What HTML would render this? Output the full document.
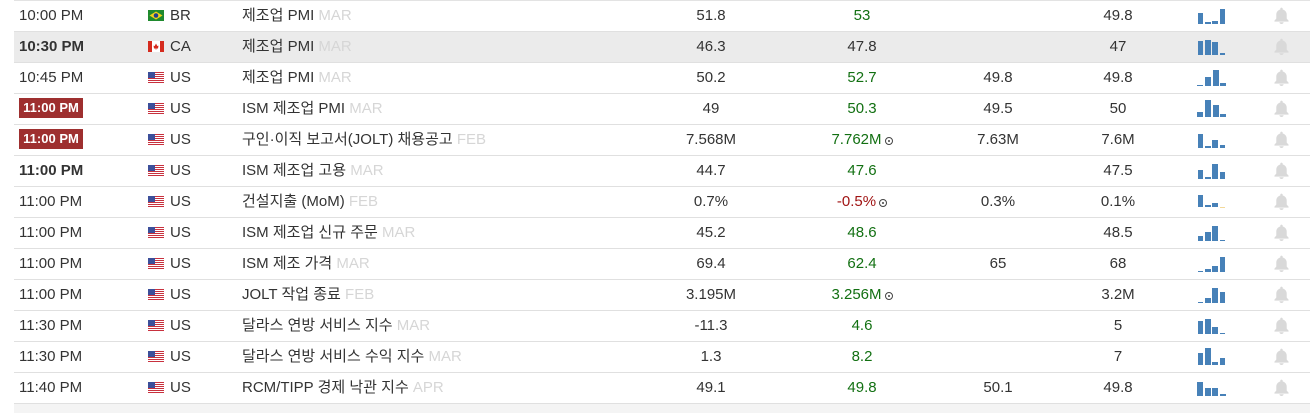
<!DOCTYPE html>
<html>
<head>
<meta charset="utf-8">
<style>
  html,body{margin:0;padding:0;background:#fff;}
  body{width:1310px;height:413px;position:relative;overflow:hidden;
       font-family:"Liberation Sans","Noto Sans CJK KR",Arial,sans-serif;font-size:15px;color:#333;}
  .top{position:absolute;left:14px;top:0;width:1296px;height:1px;background:#e3e3e3;}
  .r{position:absolute;left:14px;width:1296px;height:30px;border-bottom:1px solid #e0e0e0;}
  .r.g{background:#ebebeb;}
  .c{position:absolute;top:0;line-height:30px;white-space:nowrap;}
  .time{left:5px;}
  .b{font-weight:bold;}
  .badge{position:absolute;left:5px;top:4px;width:64px;height:20px;line-height:20px;background:#9e2f2f;color:#fff;font-weight:bold;font-size:13px;text-align:center;white-space:nowrap;}
  .flag{position:absolute;left:134px;top:9px;width:16px;height:11px;}
  .cty{left:156px;}
  .ev{left:228px;}
  .k{letter-spacing:0;}
  .ev .m{color:#d6d6d6;}
  .a{left:637px;width:120px;text-align:center;}
  .f{left:788px;width:120px;text-align:center;}
  .p{left:924px;width:120px;text-align:center;}
  .d{left:1044px;width:120px;text-align:center;}
  .gr{color:#127012;}
  .rd{color:#a01414;}
  .ic{display:inline-block;width:6px;height:6px;border:1px solid #444;border-radius:50%;position:relative;vertical-align:-1px;margin-left:3px;}
  .ic:after{content:"";position:absolute;left:2px;top:2px;width:2px;height:2px;background:#444;border-radius:50%;}
  .bar{position:absolute;background:#4781b8;}
  .bar.y{background:#f3d99a;}
  .bell{position:absolute;left:1259px;top:6px;}
  .foot{position:absolute;left:14px;top:404px;width:1296px;height:9px;background:#f4f4f4;}
</style>
</head>
<body>
<div class="top"></div>

<!-- Row 1 -->
<div class="r" style="top:1px;">
  <span class="c time">10:00 PM</span>
  <svg class="flag" viewBox="0 0 16 11"><rect width="16" height="11" fill="#1f8a2e"/><polygon points="8,1.5 14.5,5.5 8,9.5 1.5,5.5" fill="#f2d21b"/><circle cx="8" cy="5.5" r="2.3" fill="#1f3f8f"/></svg>
  <span class="c cty">BR</span>
  <span class="c ev"><span class="k">제조업</span> PMI <span class="m">MAR</span></span>
  <span class="c a">51.8</span>
  <span class="c f gr">53</span>
  <span class="c d">49.8</span>
  <div class="bar" style="left:1184px;top:12px;width:5px;height:11px;"></div>
  <div class="bar" style="left:1191px;top:21px;width:6px;height:2px;"></div>
  <div class="bar" style="left:1198px;top:20px;width:6px;height:3px;"></div>
  <div class="bar" style="left:1206px;top:8px;width:5px;height:15px;"></div>
  <svg class="bell" width="17" height="17" viewBox="0 0 14 14"><path d="M7 0.5c.6 0 1 .4 1 1v.6c2 .5 3.3 2.2 3.3 4.3v3.2l1.5 1.6v.8H1.2v-.8l1.5-1.6V6.4c0-2.1 1.3-3.8 3.3-4.3V1.5c0-.6.4-1 1-1z M5.3 12.6h3.4c0 .9-.8 1.4-1.7 1.4s-1.7-.5-1.7-1.4z" fill="#d9d9d9"/></svg>
</div>

<!-- Row 2 -->
<div class="r g" style="top:32px;">
  <span class="c time b">10:30 PM</span>
  <svg class="flag" viewBox="0 0 16 11"><rect width="16" height="11" fill="#fff"/><rect width="4" height="11" fill="#d52b1e"/><rect x="12" width="4" height="11" fill="#d52b1e"/><polygon points="8,2.5 9.3,5 10.5,4.6 10,7.5 8.3,7.5 8.3,8.8 7.7,8.8 7.7,7.5 6,7.5 5.5,4.6 6.7,5" fill="#d52b1e"/></svg>
  <span class="c cty">CA</span>
  <span class="c ev"><span class="k">제조업</span> PMI <span class="m">MAR</span></span>
  <span class="c a">46.3</span>
  <span class="c f">47.8</span>
  <span class="c d">47</span>
  <div class="bar" style="left:1184px;top:9px;width:5px;height:14px;"></div>
  <div class="bar" style="left:1191px;top:8px;width:6px;height:15px;"></div>
  <div class="bar" style="left:1198px;top:10px;width:6px;height:13px;"></div>
  <div class="bar" style="left:1206px;top:21px;width:5px;height:2px;"></div>
  <svg class="bell" width="17" height="17" viewBox="0 0 14 14"><path d="M7 0.5c.6 0 1 .4 1 1v.6c2 .5 3.3 2.2 3.3 4.3v3.2l1.5 1.6v.8H1.2v-.8l1.5-1.6V6.4c0-2.1 1.3-3.8 3.3-4.3V1.5c0-.6.4-1 1-1z M5.3 12.6h3.4c0 .9-.8 1.4-1.7 1.4s-1.7-.5-1.7-1.4z" fill="#d9d9d9"/></svg>
</div>

<!-- Row 3 -->
<div class="r" style="top:63px;">
  <span class="c time">10:45 PM</span>
  <svg class="flag" viewBox="0 0 16 11"><rect width="16" height="11" fill="#fff"/><rect y="0" width="16" height="1" fill="#c8313e"/><rect y="2" width="16" height="1" fill="#c8313e"/><rect y="4" width="16" height="1" fill="#c8313e"/><rect y="6" width="16" height="1" fill="#c8313e"/><rect y="8" width="16" height="1" fill="#c8313e"/><rect y="10" width="16" height="1" fill="#c8313e"/><rect width="7" height="6" fill="#3c4f9a"/></svg>
  <span class="c cty">US</span>
  <span class="c ev"><span class="k">제조업</span> PMI <span class="m">MAR</span></span>
  <span class="c a">50.2</span>
  <span class="c f gr">52.7</span>
  <span class="c p">49.8</span>
  <span class="c d">49.8</span>
  <div class="bar" style="left:1183px;top:22px;width:6px;height:1px;"></div>
  <div class="bar" style="left:1191px;top:14px;width:6px;height:9px;"></div>
  <div class="bar" style="left:1199px;top:7px;width:6px;height:16px;"></div>
  <div class="bar" style="left:1206px;top:20px;width:6px;height:3px;"></div>
  <svg class="bell" width="17" height="17" viewBox="0 0 14 14"><path d="M7 0.5c.6 0 1 .4 1 1v.6c2 .5 3.3 2.2 3.3 4.3v3.2l1.5 1.6v.8H1.2v-.8l1.5-1.6V6.4c0-2.1 1.3-3.8 3.3-4.3V1.5c0-.6.4-1 1-1z M5.3 12.6h3.4c0 .9-.8 1.4-1.7 1.4s-1.7-.5-1.7-1.4z" fill="#d9d9d9"/></svg>
</div>

<!-- Row 4 -->
<div class="r" style="top:94px;">
  <span class="badge">11:00 PM</span>
  <svg class="flag" viewBox="0 0 16 11"><rect width="16" height="11" fill="#fff"/><rect y="0" width="16" height="1" fill="#c8313e"/><rect y="2" width="16" height="1" fill="#c8313e"/><rect y="4" width="16" height="1" fill="#c8313e"/><rect y="6" width="16" height="1" fill="#c8313e"/><rect y="8" width="16" height="1" fill="#c8313e"/><rect y="10" width="16" height="1" fill="#c8313e"/><rect width="7" height="6" fill="#3c4f9a"/></svg>
  <span class="c cty">US</span>
  <span class="c ev">ISM <span class="k">제조업</span> PMI <span class="m">MAR</span></span>
  <span class="c a">49</span>
  <span class="c f gr">50.3</span>
  <span class="c p">49.5</span>
  <span class="c d">50</span>
  <div class="bar" style="left:1183px;top:18px;width:6px;height:5px;"></div>
  <div class="bar" style="left:1191px;top:6px;width:6px;height:17px;"></div>
  <div class="bar" style="left:1199px;top:11px;width:6px;height:12px;"></div>
  <div class="bar" style="left:1206px;top:20px;width:6px;height:3px;"></div>
  <svg class="bell" width="17" height="17" viewBox="0 0 14 14"><path d="M7 0.5c.6 0 1 .4 1 1v.6c2 .5 3.3 2.2 3.3 4.3v3.2l1.5 1.6v.8H1.2v-.8l1.5-1.6V6.4c0-2.1 1.3-3.8 3.3-4.3V1.5c0-.6.4-1 1-1z M5.3 12.6h3.4c0 .9-.8 1.4-1.7 1.4s-1.7-.5-1.7-1.4z" fill="#d9d9d9"/></svg>
</div>

<!-- Row 5 -->
<div class="r" style="top:125px;">
  <span class="badge">11:00 PM</span>
  <svg class="flag" viewBox="0 0 16 11"><rect width="16" height="11" fill="#fff"/><rect y="0" width="16" height="1" fill="#c8313e"/><rect y="2" width="16" height="1" fill="#c8313e"/><rect y="4" width="16" height="1" fill="#c8313e"/><rect y="6" width="16" height="1" fill="#c8313e"/><rect y="8" width="16" height="1" fill="#c8313e"/><rect y="10" width="16" height="1" fill="#c8313e"/><rect width="7" height="6" fill="#3c4f9a"/></svg>
  <span class="c cty">US</span>
  <span class="c ev"><span class="k">구인·이직</span> <span class="k">보고서</span>(JOLT) <span class="k">채용공고</span> <span class="m">FEB</span></span>
  <span class="c a">7.568M</span>
  <span class="c f gr">7.762M<span class="ic"></span></span>
  <span class="c p">7.63M</span>
  <span class="c d">7.6M</span>
  <div class="bar" style="left:1184px;top:9px;width:5px;height:14px;"></div>
  <div class="bar" style="left:1191px;top:21px;width:6px;height:2px;"></div>
  <div class="bar" style="left:1198px;top:15px;width:6px;height:8px;"></div>
  <div class="bar" style="left:1206px;top:20px;width:5px;height:3px;"></div>
  <svg class="bell" width="17" height="17" viewBox="0 0 14 14"><path d="M7 0.5c.6 0 1 .4 1 1v.6c2 .5 3.3 2.2 3.3 4.3v3.2l1.5 1.6v.8H1.2v-.8l1.5-1.6V6.4c0-2.1 1.3-3.8 3.3-4.3V1.5c0-.6.4-1 1-1z M5.3 12.6h3.4c0 .9-.8 1.4-1.7 1.4s-1.7-.5-1.7-1.4z" fill="#d9d9d9"/></svg>
</div>

<!-- Row 6 -->
<div class="r" style="top:156px;">
  <span class="c time b">11:00 PM</span>
  <svg class="flag" viewBox="0 0 16 11"><rect width="16" height="11" fill="#fff"/><rect y="0" width="16" height="1" fill="#c8313e"/><rect y="2" width="16" height="1" fill="#c8313e"/><rect y="4" width="16" height="1" fill="#c8313e"/><rect y="6" width="16" height="1" fill="#c8313e"/><rect y="8" width="16" height="1" fill="#c8313e"/><rect y="10" width="16" height="1" fill="#c8313e"/><rect width="7" height="6" fill="#3c4f9a"/></svg>
  <span class="c cty">US</span>
  <span class="c ev">ISM <span class="k">제조업</span> <span class="k">고용</span> <span class="m">MAR</span></span>
  <span class="c a">44.7</span>
  <span class="c f gr">47.6</span>
  <span class="c d">47.5</span>
  <div class="bar" style="left:1184px;top:14px;width:5px;height:9px;"></div>
  <div class="bar" style="left:1191px;top:21px;width:6px;height:2px;"></div>
  <div class="bar" style="left:1198px;top:8px;width:6px;height:15px;"></div>
  <div class="bar" style="left:1206px;top:16px;width:5px;height:7px;"></div>
  <svg class="bell" width="17" height="17" viewBox="0 0 14 14"><path d="M7 0.5c.6 0 1 .4 1 1v.6c2 .5 3.3 2.2 3.3 4.3v3.2l1.5 1.6v.8H1.2v-.8l1.5-1.6V6.4c0-2.1 1.3-3.8 3.3-4.3V1.5c0-.6.4-1 1-1z M5.3 12.6h3.4c0 .9-.8 1.4-1.7 1.4s-1.7-.5-1.7-1.4z" fill="#d9d9d9"/></svg>
</div>

<!-- Row 7 -->
<div class="r" style="top:187px;">
  <span class="c time">11:00 PM</span>
  <svg class="flag" viewBox="0 0 16 11"><rect width="16" height="11" fill="#fff"/><rect y="0" width="16" height="1" fill="#c8313e"/><rect y="2" width="16" height="1" fill="#c8313e"/><rect y="4" width="16" height="1" fill="#c8313e"/><rect y="6" width="16" height="1" fill="#c8313e"/><rect y="8" width="16" height="1" fill="#c8313e"/><rect y="10" width="16" height="1" fill="#c8313e"/><rect width="7" height="6" fill="#3c4f9a"/></svg>
  <span class="c cty">US</span>
  <span class="c ev"><span class="k">건설지출</span> (MoM) <span class="m">FEB</span></span>
  <span class="c a">0.7%</span>
  <span class="c f rd">-0.5%<span class="ic"></span></span>
  <span class="c p">0.3%</span>
  <span class="c d">0.1%</span>
  <div class="bar" style="left:1184px;top:8px;width:5px;height:12px;"></div>
  <div class="bar" style="left:1191px;top:18px;width:6px;height:2px;"></div>
  <div class="bar" style="left:1198px;top:16px;width:6px;height:4px;"></div>
  <div class="bar y" style="left:1206px;top:20px;width:5px;height:1px;"></div>
  <svg class="bell" width="17" height="17" viewBox="0 0 14 14"><path d="M7 0.5c.6 0 1 .4 1 1v.6c2 .5 3.3 2.2 3.3 4.3v3.2l1.5 1.6v.8H1.2v-.8l1.5-1.6V6.4c0-2.1 1.3-3.8 3.3-4.3V1.5c0-.6.4-1 1-1z M5.3 12.6h3.4c0 .9-.8 1.4-1.7 1.4s-1.7-.5-1.7-1.4z" fill="#d9d9d9"/></svg>
</div>

<!-- Row 8 -->
<div class="r" style="top:218px;">
  <span class="c time">11:00 PM</span>
  <svg class="flag" viewBox="0 0 16 11"><rect width="16" height="11" fill="#fff"/><rect y="0" width="16" height="1" fill="#c8313e"/><rect y="2" width="16" height="1" fill="#c8313e"/><rect y="4" width="16" height="1" fill="#c8313e"/><rect y="6" width="16" height="1" fill="#c8313e"/><rect y="8" width="16" height="1" fill="#c8313e"/><rect y="10" width="16" height="1" fill="#c8313e"/><rect width="7" height="6" fill="#3c4f9a"/></svg>
  <span class="c cty">US</span>
  <span class="c ev">ISM <span class="k">제조업</span> <span class="k">신규</span> <span class="k">주문</span> <span class="m">MAR</span></span>
  <span class="c a">45.2</span>
  <span class="c f gr">48.6</span>
  <span class="c d">48.5</span>
  <div class="bar" style="left:1184px;top:18px;width:5px;height:5px;"></div>
  <div class="bar" style="left:1191px;top:14px;width:6px;height:9px;"></div>
  <div class="bar" style="left:1198px;top:8px;width:6px;height:15px;"></div>
  <div class="bar" style="left:1206px;top:22px;width:5px;height:1px;"></div>
  <svg class="bell" width="17" height="17" viewBox="0 0 14 14"><path d="M7 0.5c.6 0 1 .4 1 1v.6c2 .5 3.3 2.2 3.3 4.3v3.2l1.5 1.6v.8H1.2v-.8l1.5-1.6V6.4c0-2.1 1.3-3.8 3.3-4.3V1.5c0-.6.4-1 1-1z M5.3 12.6h3.4c0 .9-.8 1.4-1.7 1.4s-1.7-.5-1.7-1.4z" fill="#d9d9d9"/></svg>
</div>

<!-- Row 9 -->
<div class="r" style="top:249px;">
  <span class="c time">11:00 PM</span>
  <svg class="flag" viewBox="0 0 16 11"><rect width="16" height="11" fill="#fff"/><rect y="0" width="16" height="1" fill="#c8313e"/><rect y="2" width="16" height="1" fill="#c8313e"/><rect y="4" width="16" height="1" fill="#c8313e"/><rect y="6" width="16" height="1" fill="#c8313e"/><rect y="8" width="16" height="1" fill="#c8313e"/><rect y="10" width="16" height="1" fill="#c8313e"/><rect width="7" height="6" fill="#3c4f9a"/></svg>
  <span class="c cty">US</span>
  <span class="c ev">ISM <span class="k">제조</span> <span class="k">가격</span> <span class="m">MAR</span></span>
  <span class="c a">69.4</span>
  <span class="c f gr">62.4</span>
  <span class="c p">65</span>
  <span class="c d">68</span>
  <div class="bar" style="left:1184px;top:22px;width:5px;height:1px;"></div>
  <div class="bar" style="left:1191px;top:20px;width:6px;height:3px;"></div>
  <div class="bar" style="left:1198px;top:17px;width:6px;height:6px;"></div>
  <div class="bar" style="left:1206px;top:8px;width:5px;height:15px;"></div>
  <svg class="bell" width="17" height="17" viewBox="0 0 14 14"><path d="M7 0.5c.6 0 1 .4 1 1v.6c2 .5 3.3 2.2 3.3 4.3v3.2l1.5 1.6v.8H1.2v-.8l1.5-1.6V6.4c0-2.1 1.3-3.8 3.3-4.3V1.5c0-.6.4-1 1-1z M5.3 12.6h3.4c0 .9-.8 1.4-1.7 1.4s-1.7-.5-1.7-1.4z" fill="#d9d9d9"/></svg>
</div>

<!-- Row 10 -->
<div class="r" style="top:280px;">
  <span class="c time">11:00 PM</span>
  <svg class="flag" viewBox="0 0 16 11"><rect width="16" height="11" fill="#fff"/><rect y="0" width="16" height="1" fill="#c8313e"/><rect y="2" width="16" height="1" fill="#c8313e"/><rect y="4" width="16" height="1" fill="#c8313e"/><rect y="6" width="16" height="1" fill="#c8313e"/><rect y="8" width="16" height="1" fill="#c8313e"/><rect y="10" width="16" height="1" fill="#c8313e"/><rect width="7" height="6" fill="#3c4f9a"/></svg>
  <span class="c cty">US</span>
  <span class="c ev">JOLT <span class="k">작업</span> <span class="k">종료</span> <span class="m">FEB</span></span>
  <span class="c a">3.195M</span>
  <span class="c f gr">3.256M<span class="ic"></span></span>
  <span class="c d">3.2M</span>
  <div class="bar" style="left:1184px;top:22px;width:5px;height:1px;"></div>
  <div class="bar" style="left:1191px;top:18px;width:6px;height:5px;"></div>
  <div class="bar" style="left:1198px;top:8px;width:6px;height:15px;"></div>
  <div class="bar" style="left:1206px;top:12px;width:5px;height:11px;"></div>
  <svg class="bell" width="17" height="17" viewBox="0 0 14 14"><path d="M7 0.5c.6 0 1 .4 1 1v.6c2 .5 3.3 2.2 3.3 4.3v3.2l1.5 1.6v.8H1.2v-.8l1.5-1.6V6.4c0-2.1 1.3-3.8 3.3-4.3V1.5c0-.6.4-1 1-1z M5.3 12.6h3.4c0 .9-.8 1.4-1.7 1.4s-1.7-.5-1.7-1.4z" fill="#d9d9d9"/></svg>
</div>

<!-- Row 11 -->
<div class="r" style="top:311px;">
  <span class="c time">11:30 PM</span>
  <svg class="flag" viewBox="0 0 16 11"><rect width="16" height="11" fill="#fff"/><rect y="0" width="16" height="1" fill="#c8313e"/><rect y="2" width="16" height="1" fill="#c8313e"/><rect y="4" width="16" height="1" fill="#c8313e"/><rect y="6" width="16" height="1" fill="#c8313e"/><rect y="8" width="16" height="1" fill="#c8313e"/><rect y="10" width="16" height="1" fill="#c8313e"/><rect width="7" height="6" fill="#3c4f9a"/></svg>
  <span class="c cty">US</span>
  <span class="c ev"><span class="k">달라스</span> <span class="k">연방</span> <span class="k">서비스</span> <span class="k">지수</span> <span class="m">MAR</span></span>
  <span class="c a">-11.3</span>
  <span class="c f gr">4.6</span>
  <span class="c d">5</span>
  <div class="bar" style="left:1184px;top:10px;width:5px;height:13px;"></div>
  <div class="bar" style="left:1191px;top:8px;width:6px;height:15px;"></div>
  <div class="bar" style="left:1198px;top:16px;width:6px;height:7px;"></div>
  <div class="bar" style="left:1206px;top:22px;width:5px;height:1px;"></div>
  <svg class="bell" width="17" height="17" viewBox="0 0 14 14"><path d="M7 0.5c.6 0 1 .4 1 1v.6c2 .5 3.3 2.2 3.3 4.3v3.2l1.5 1.6v.8H1.2v-.8l1.5-1.6V6.4c0-2.1 1.3-3.8 3.3-4.3V1.5c0-.6.4-1 1-1z M5.3 12.6h3.4c0 .9-.8 1.4-1.7 1.4s-1.7-.5-1.7-1.4z" fill="#d9d9d9"/></svg>
</div>

<!-- Row 12 -->
<div class="r" style="top:342px;">
  <span class="c time">11:30 PM</span>
  <svg class="flag" viewBox="0 0 16 11"><rect width="16" height="11" fill="#fff"/><rect y="0" width="16" height="1" fill="#c8313e"/><rect y="2" width="16" height="1" fill="#c8313e"/><rect y="4" width="16" height="1" fill="#c8313e"/><rect y="6" width="16" height="1" fill="#c8313e"/><rect y="8" width="16" height="1" fill="#c8313e"/><rect y="10" width="16" height="1" fill="#c8313e"/><rect width="7" height="6" fill="#3c4f9a"/></svg>
  <span class="c cty">US</span>
  <span class="c ev"><span class="k">달라스</span> <span class="k">연방</span> <span class="k">서비스</span> <span class="k">수익</span> <span class="k">지수</span> <span class="m">MAR</span></span>
  <span class="c a">1.3</span>
  <span class="c f gr">8.2</span>
  <span class="c d">7</span>
  <div class="bar" style="left:1184px;top:11px;width:5px;height:12px;"></div>
  <div class="bar" style="left:1191px;top:6px;width:6px;height:17px;"></div>
  <div class="bar" style="left:1198px;top:20px;width:6px;height:3px;"></div>
  <div class="bar" style="left:1206px;top:16px;width:5px;height:7px;"></div>
  <svg class="bell" width="17" height="17" viewBox="0 0 14 14"><path d="M7 0.5c.6 0 1 .4 1 1v.6c2 .5 3.3 2.2 3.3 4.3v3.2l1.5 1.6v.8H1.2v-.8l1.5-1.6V6.4c0-2.1 1.3-3.8 3.3-4.3V1.5c0-.6.4-1 1-1z M5.3 12.6h3.4c0 .9-.8 1.4-1.7 1.4s-1.7-.5-1.7-1.4z" fill="#d9d9d9"/></svg>
</div>

<!-- Row 13 -->
<div class="r" style="top:373px;">
  <span class="c time">11:40 PM</span>
  <svg class="flag" viewBox="0 0 16 11"><rect width="16" height="11" fill="#fff"/><rect y="0" width="16" height="1" fill="#c8313e"/><rect y="2" width="16" height="1" fill="#c8313e"/><rect y="4" width="16" height="1" fill="#c8313e"/><rect y="6" width="16" height="1" fill="#c8313e"/><rect y="8" width="16" height="1" fill="#c8313e"/><rect y="10" width="16" height="1" fill="#c8313e"/><rect width="7" height="6" fill="#3c4f9a"/></svg>
  <span class="c cty">US</span>
  <span class="c ev">RCM/TIPP <span class="k">경제</span> <span class="k">낙관</span> <span class="k">지수</span> <span class="m">APR</span></span>
  <span class="c a">49.1</span>
  <span class="c f gr">49.8</span>
  <span class="c p">50.1</span>
  <span class="c d">49.8</span>
  <div class="bar" style="left:1183px;top:9px;width:6px;height:14px;"></div>
  <div class="bar" style="left:1191px;top:15px;width:6px;height:8px;"></div>
  <div class="bar" style="left:1198px;top:15px;width:6px;height:8px;"></div>
  <div class="bar" style="left:1206px;top:21px;width:6px;height:2px;"></div>
  <svg class="bell" width="17" height="17" viewBox="0 0 14 14"><path d="M7 0.5c.6 0 1 .4 1 1v.6c2 .5 3.3 2.2 3.3 4.3v3.2l1.5 1.6v.8H1.2v-.8l1.5-1.6V6.4c0-2.1 1.3-3.8 3.3-4.3V1.5c0-.6.4-1 1-1z M5.3 12.6h3.4c0 .9-.8 1.4-1.7 1.4s-1.7-.5-1.7-1.4z" fill="#d9d9d9"/></svg>
</div>

<div class="foot"></div>
</body>
</html>
